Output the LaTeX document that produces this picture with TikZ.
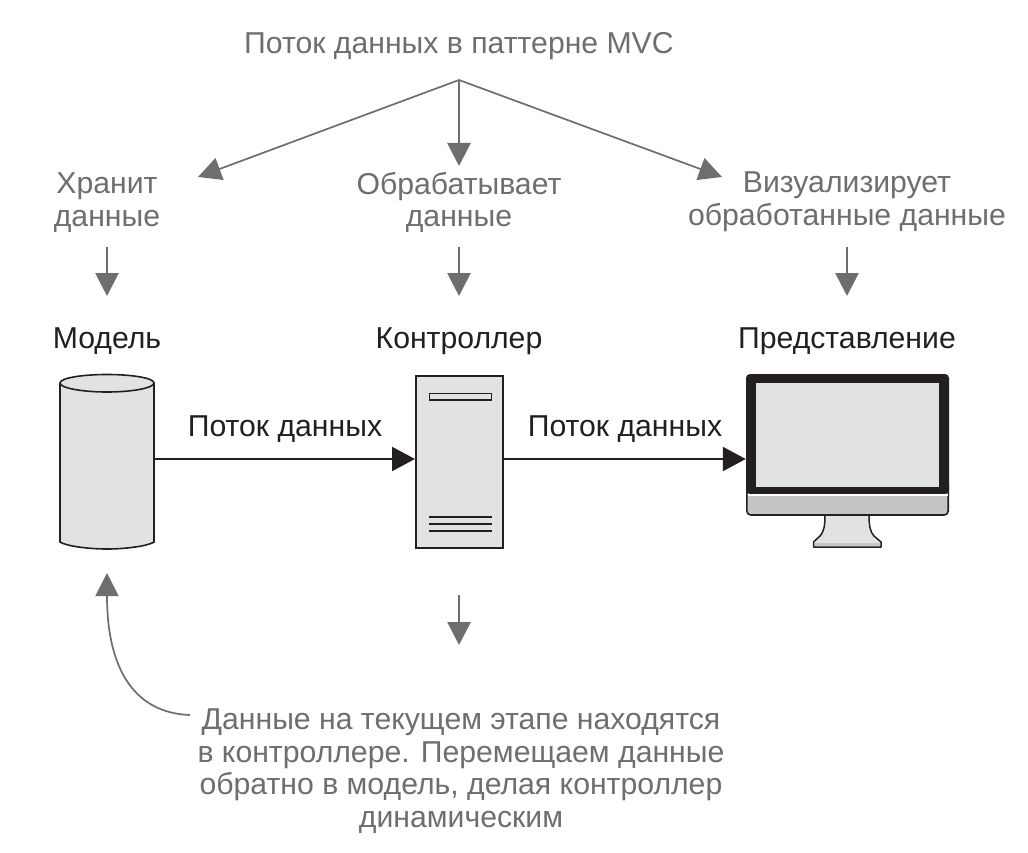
\documentclass[tikz,border=0pt]{standalone}
\usepackage{fontspec}
\setmainfont{Liberation Sans}
\usetikzlibrary{arrows.meta}
\definecolor{ink}{HTML}{231F20}
\definecolor{mute}{HTML}{6D6E70}
\definecolor{panel}{HTML}{E1E2E3}
\definecolor{base}{HTML}{C4C5C6}
\tikzset{
  lbl/.style={font=\fontsize{30.2}{32.7}\selectfont,align=center,inner sep=0pt,text=mute},
  dark/.style={lbl,text=ink},
  flow/.style={draw=ink,line width=2.2pt,-{Triangle[length=23pt,width=24pt,fill=ink]}},
  note/.style={draw=mute,line width=1.7pt,-{Triangle[length=23pt,width=23pt,fill=mute]}},
  strong/.style={note,line width=2.8pt},
  frame/.style={draw=ink,line width=1.6pt,fill=panel}
}
\begin{document}
\begin{tikzpicture}[x=1pt,y=-1pt]
\useasboundingbox[fill=white] (0,0) rectangle (1028,853);
% hub and free ends
\coordinate (hub) at (459,80);
\coordinate (flowline) at (0,459);
% texts
\node[lbl] (title) at (459,46) {Поток данных в паттерне MVC};
\node[lbl] (store) at (107,202.5) {Хранит\\данные};
\node[lbl] (proc) at (459,202.5) {Обрабатывает\\данные};
\node[lbl] (vis) at (847,201.5) {Визуализирует\\обработанные данные};
\node[dark] (modellbl) at (107,341) {Модель};
\node[dark] (ctrllbl) at (459,341) {Контроллер};
\node[dark] (viewlbl) at (847,341) {Представление};
\node[dark] (f1) at (285,429) {Поток данных};
\node[dark] (f2) at (625,429) {Поток данных};
\node[lbl] (noteb) at (461,771) {Данные на текущем этапе находятся\\в контроллере. Перемещаем данные\\обратно в модель, делая контроллер\\динамическим};
% model: cylinder
\node[inner sep=0pt,minimum width=94pt,minimum height=175pt] (model) at (107,462) {};
\draw[frame] (60,383) -- (60,542) .. controls (66,546) and (88,549) .. (107,549)
  .. controls (126,549) and (148,546) .. (154,542) -- (154,383)
  .. controls (154,378) and (132,374.5) .. (107,374.5) .. controls (82,374.5) and (60,378) .. (60,383) -- cycle;
\draw[draw=ink,line width=1.6pt] (60,383) .. controls (60,388) and (82,392) .. (107,392) .. controls (132,392) and (154,388) .. (154,383);
% controller: tower
\node[frame,line width=2pt,inner sep=0pt,minimum width=87pt,minimum height=172pt] (server) at (459.5,462) {};
\draw[draw=ink,line width=1.8pt] (429.5,393.5) rectangle (491.5,400);
\draw[draw=ink,line width=1.5pt] (429,517) -- (492,517) (429,524) -- (492,524) (429,531) -- (492,531);
% view: monitor
\node[inner sep=0pt,minimum width=203pt,minimum height=120pt] (view) at (847.5,434) {};
\draw[draw=ink,line width=1.6pt,fill=base,rounded corners=4pt] (746.8,480) rectangle (948.2,515);
\fill[ink,rounded corners=4pt] (746,494) -- (746,374) -- (949,374) -- (949,494) -- cycle;
\fill[white] (747.5,494) rectangle (947.5,496);
\fill[panel] (756,383) rectangle (939,487);
\draw[draw=ink,line width=1.5pt,fill=panel,line join=round] (825,515) .. controls (825,525) and (824,532) .. (820,536)
  -- (813.5,542) -- (813.5,547) -- (881,547) -- (881,542) -- (874,536)
  .. controls (870,532) and (869,525) .. (869,515) -- cycle;
\fill[base] (815,543) rectangle (880,546.2);
% connectors
\draw[flow] (model.east |- flowline) -- (server.west |- flowline);
\draw[flow] (server.east |- flowline) -- (view.west |- flowline);
\coordinate (a1) at (198,177);
\coordinate (a3) at (722,177);
\coordinate (a2) at (459,166);
\draw[note] (hub) -- (a1);
\draw[strong] (hub) -- (a2);
\draw[note] (hub) -- (a3);
\draw[strong] (store.south |- 0,247) -- (store.south |- 0,296);
\draw[strong] (proc.south |- 0,247) -- (proc.south |- 0,296);
\draw[strong] (vis.south |- 0,247) -- (vis.south |- 0,296);
\draw[strong] (proc.south |- 0,595) -- (proc.south |- 0,645);
\coordinate (back) at (190,715);
\coordinate (backend) at (107,573);
\draw[note] (back) .. controls (135,713) and (107,670) .. (backend);
\end{tikzpicture}
\end{document}
